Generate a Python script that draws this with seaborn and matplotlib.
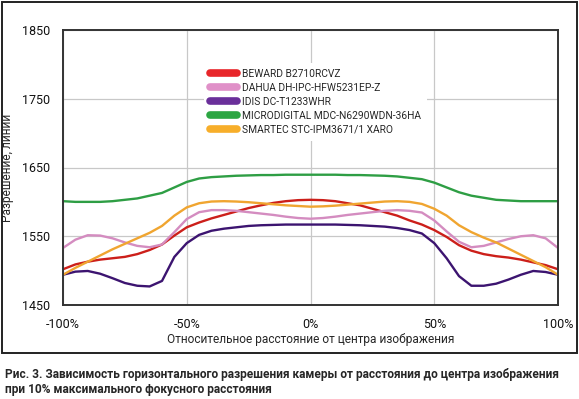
import numpy as np
import matplotlib
matplotlib.use("Agg")
import matplotlib.pyplot as plt
from matplotlib import font_manager
from matplotlib.lines import Line2D
from matplotlib.patches import Rectangle
import pandas as pd
import seaborn as sns

# distance from image centre, %
x_pct = list(range(-100, 101, 5))

beward = [1502, 1509, 1513, 1516, 1518, 1520, 1524, 1530, 1538, 1551, 1563,
          1570, 1576, 1581, 1586, 1591, 1595, 1598.5, 1601, 1602.5, 1603,
          1602.5, 1601, 1598, 1595, 1590, 1585, 1580, 1573, 1567, 1559,
          1549, 1537, 1529, 1524, 1521, 1519, 1516, 1512, 1508, 1502]
dahua = [1533, 1545, 1551.5, 1551, 1547, 1541, 1536, 1534, 1538, 1556, 1575,
         1585, 1588, 1588, 1587, 1585, 1583, 1581, 1578.5, 1576.5, 1575.5,
         1576.5, 1578.5, 1581, 1583, 1585, 1587, 1588, 1587, 1584.5, 1573,
         1557, 1542, 1534, 1536, 1541, 1546, 1550, 1551.5, 1547, 1533]
idis = [1494, 1498.5, 1499.5, 1495.5, 1489, 1482, 1478, 1477, 1485, 1520, 1540,
        1552, 1558, 1561, 1563, 1565, 1566, 1566.5, 1567, 1567, 1567,
        1567, 1567, 1566.5, 1566, 1565, 1564, 1562, 1559, 1554, 1540,
        1518, 1492, 1478, 1478, 1481, 1487, 1494, 1499.5, 1498, 1494]
microdigital = [1601, 1600, 1600, 1600, 1601, 1603, 1605, 1609, 1613, 1621, 1629,
                1634, 1636, 1637, 1638, 1638.5, 1639, 1639, 1639.5, 1639.5, 1639.5,
                1639.5, 1639.5, 1639, 1639, 1638.5, 1638, 1637, 1635, 1633, 1628,
                1621, 1614, 1609, 1606, 1603, 1602, 1601, 1601, 1601, 1601]
smartec = [1494, 1504, 1513, 1522, 1531, 1539, 1547, 1555, 1565, 1580, 1592,
           1598, 1600.5, 1601, 1600.5, 1599.5, 1598, 1596.5, 1595, 1594, 1593,
           1593.5, 1594.5, 1596, 1597.5, 1599, 1600.5, 1601, 1600, 1597, 1590,
           1580, 1566, 1556, 1548, 1541, 1532, 1523, 1514, 1505, 1494]

names = ["BEWARD B2710RCVZ", "DAHUA DH-IPC-HFW5231EP-Z", "IDIS DC-T1233WHR",
         "MICRODIGITAL MDC-N6290WDN-36HA", "SMARTEC STC-IPM3671/1 XARO"]
series = [beward, dahua, idis, microdigital, smartec]
line_colors = ["#cc1f1a", "#d48cc0", "#3c1470", "#2e9e44", "#f0a530"]
legend_colors = ["#e8262a", "#e090c8", "#6a2f9a", "#2ca642", "#f7ae2a"]

x_ticks = [-100, -50, 0, 50, 100]
x_labels = ["-100%", "-50%", "0%", "50%", "100%"]
y_ticks = [1450, 1550, 1650, 1750, 1850]

df = pd.concat([pd.DataFrame({"x": x_pct, "y": s, "camera": n})
                for n, s in zip(names, series)], ignore_index=True)

sns.set_style("white")
available = {f.name for f in font_manager.fontManager.ttflist}
font = "Liberation Sans Narrow" if "Liberation Sans Narrow" in available else "Roboto"
plt.rcParams["font.family"] = [font, "DejaVu Sans"]

fig = plt.figure(figsize=(5.79, 3.99), dpi=100)
ax = fig.add_axes([63 / 579, 1 - 305 / 399, 495 / 579, 275 / 399])

sns.lineplot(data=df, x="x", y="y", hue="camera", palette=line_colors,
             linewidth=1.7, legend=False, ax=ax)

ax.set_xlim(-100, 100)
ax.set_ylim(1450, 1850)
ax.set_xticks(x_ticks)
ax.set_xticklabels(x_labels)
ax.set_yticks(y_ticks)
ax.grid(True, color="#c8c8c8", linewidth=0.9)
ax.set_axisbelow(True)
ax.tick_params(length=0, labelsize=9, pad=9, colors="#111111")
for sp in ax.spines.values():
    sp.set_color("#333333")
    sp.set_linewidth(1.4)

ax.set_xlabel("Относительное расстояние от центра изображения", fontsize=8.6, labelpad=2)
ax.set_ylabel("Разрешение, линии", fontsize=8.6, labelpad=6)

handles = [Line2D([0], [0], color=c, linewidth=5.5, solid_capstyle="round")
           for c in legend_colors]
leg = ax.legend(handles, names, loc="upper left", bbox_to_anchor=(0.275, 0.9),
                frameon=True, fontsize=7.4, handlelength=2.6, handletextpad=0.5,
                labelspacing=0.38, borderpad=0.6)
leg.get_frame().set_facecolor("white")
leg.get_frame().set_edgecolor("none")
leg.get_frame().set_alpha(1)

# outer frame around the chart
fig.patches.append(Rectangle((2 / 579, 1 - 353 / 399), 575 / 579, 351 / 399,
                             transform=fig.transFigure, fill=False,
                             edgecolor="#222222", linewidth=1.4))

fig.text(5 / 579, 1 - 368 / 399,
         "Рис. 3. Зависимость горизонтального разрешения камеры от расстояния до центра изображения\n"
         "при 10% максимального фокусного расстояния",
         fontsize=8.6, fontweight="bold", va="top", ha="left", linespacing=1.2)

fig.savefig("out.png", dpi=100)
